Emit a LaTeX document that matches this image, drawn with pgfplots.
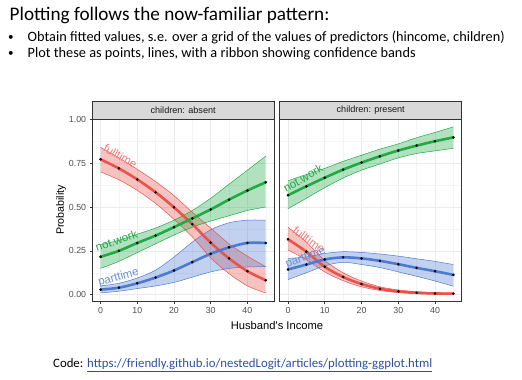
\documentclass[border=0pt]{standalone}
\usepackage{pgfplots}
\pgfplotsset{compat=1.18}
\usepackage{pgfplotstable}
\usepgfplotslibrary{fillbetween}
\usepackage{fontspec}
\setmainfont{Carlito}
\newfontfamily\arial{Liberation Sans}
\definecolor{cft}{HTML}{E9534B}
\definecolor{cnw}{HTML}{1FAA45}
\definecolor{cpt}{HTML}{4D7BD0}
\definecolor{gridmaj}{HTML}{EBEBEB}
\definecolor{gridmin}{HTML}{F4F4F4}
\definecolor{frame}{HTML}{333333}
\definecolor{stripbg}{HTML}{D9D9D9}
\definecolor{ticktxt}{HTML}{4D4D4D}
\definecolor{linkc}{HTML}{2E4FA0}

\pgfplotstableread{
x ft ftu ftl nw nwu nwl pt ptu ptl
0 0.772 0.84 0.70 0.216 0.285 0.15 0.029 0.05 0.01
5 0.72 0.78 0.655 0.25 0.31 0.19 0.04 0.065 0.02
10 0.657 0.715 0.595 0.295 0.345 0.24 0.065 0.095 0.035
15 0.584 0.645 0.52 0.337 0.38 0.29 0.098 0.14 0.05
20 0.498 0.565 0.43 0.385 0.425 0.34 0.138 0.215 0.07
25 0.402 0.47 0.33 0.435 0.48 0.385 0.186 0.30 0.10
30 0.297 0.38 0.21 0.486 0.55 0.42 0.233 0.37 0.13
35 0.207 0.29 0.12 0.542 0.63 0.45 0.27 0.41 0.15
40 0.134 0.22 0.05 0.594 0.71 0.48 0.295 0.425 0.158
45 0.082 0.16 0.01 0.641 0.79 0.50 0.295 0.425 0.16
}\absent

\pgfplotstableread{
x ft ftu ftl nw nwu nwl pt ptu ptl
0 0.316 0.385 0.255 0.567 0.65 0.49 0.144 0.207 0.086
5 0.245 0.30 0.20 0.618 0.685 0.55 0.172 0.215 0.125
10 0.159 0.195 0.13 0.667 0.72 0.61 0.201 0.235 0.165
15 0.101 0.125 0.08 0.713 0.76 0.665 0.213 0.245 0.185
20 0.061 0.078 0.045 0.753 0.795 0.71 0.207 0.241 0.172
25 0.034 0.045 0.024 0.789 0.83 0.745 0.193 0.232 0.155
30 0.019 0.027 0.012 0.822 0.86 0.78 0.174 0.22 0.13
35 0.011 0.017 0.006 0.85 0.895 0.805 0.153 0.205 0.105
40 0.007 0.012 0.003 0.875 0.925 0.82 0.134 0.19 0.078
45 0.006 0.01 0.002 0.897 0.957 0.835 0.113 0.172 0.048
}\present

\pgfplotsset{
  panel/.style={
    scale only axis, height=181.9pt,
    xmin=-2.25, xmax=47.25, ymin=-0.037, ymax=1,
    xtick={0,10,20,30,40}, ytick={0,0.25,0.5,0.75,1},
    minor xtick={5,15,25,35,45}, minor ytick={0.125,0.375,0.625,0.875},
    grid=both,
    major grid style={gridmaj, line width=0.6pt},
    minor grid style={gridmin, line width=0.4pt},
    axis line style={frame, line width=0.6pt},
    tick align=outside, major tick length=2.7pt, minor tick length=0pt,
    tick style={frame, line width=0.5pt},
    xtick pos=bottom, ytick pos=left,
    ticklabel style={font=\arial\fontsize{8.8}{10}\selectfont, text=ticktxt},
    /pgf/number format/assume math mode=true,
    clip=true,
  },
  band/.style={draw=#1, line width=0.5pt, smooth, forget plot},
}

\newcommand{\series}[5]{%
  \addplot[band=#5, name path=u#2] table[x=x,y=#3]{#1};
  \addplot[band=#5, name path=l#2] table[x=x,y=#4]{#1};
  \addplot[#5, fill opacity=0.35, draw=none] fill between[of=u#2 and l#2];
}
\newcommand{\mline}[3]{%
  \addplot[#3, line width=2.6pt, smooth] table[x=x,y=#2]{#1};
  \addplot[only marks, mark=*, mark size=1.1pt, black] table[x=x,y=#2]{#1};
}

\begin{document}
\begin{tikzpicture}[x=1pt,y=1pt]
\path (0,0) rectangle (522,380);

% slide text
\node[anchor=base west, inner sep=0] at (9.5,359.3) {\fontsize{19.2}{23}\selectfont Plotting follows the now-familiar pattern:};
\node[anchor=base west, inner sep=0] at (8,339.3) {\fontsize{11}{13}\selectfont \textbullet};
\node[anchor=base west, inner sep=0] at (27.5,338.3) {\fontsize{14.3}{17}\selectfont Obtain fitted values, s.e. over a grid of the values of predictors (hincome, children)};
\node[anchor=base west, inner sep=0] at (8,323.2) {\fontsize{11}{13}\selectfont \textbullet};
\node[anchor=base west, inner sep=0] at (27.5,322.2) {\fontsize{14.3}{17}\selectfont Plot these as points, lines, with a ribbon showing confidence bands};
\node[anchor=base west, inner sep=0] at (53,12.2) {\fontsize{12.8}{15}\selectfont Code: \textcolor{linkc}{\underline{https://friendly.github.io/nestedLogit/articles/plotting-ggplot.html}}};

% left panel
\begin{axis}[panel, at={(92.3pt,78.8pt)}, anchor=south west, width=181.7pt,
  yticklabel style={/pgf/number format/.cd, fixed, fixed zerofill, precision=2}]
\series{\absent}{ft}{ftu}{ftl}{cft}
\series{\absent}{nw}{nwu}{nwl}{cnw}
\series{\absent}{pt}{ptu}{ptl}{cpt}
\mline{\absent}{ft}{cft}
\mline{\absent}{nw}{cnw}
\mline{\absent}{pt}{cpt}
\node[rotate=-30, text=cft!75!white, font=\arial\fontsize{11.5}{12}\selectfont] at (axis cs:5.4,0.79) {fulltime};
\node[rotate=19.5, text=cnw, font=\arial\fontsize{11.5}{12}\selectfont] at (axis cs:4.3,0.307) {not.work};
\node[rotate=15.6, text=cpt!85!white, font=\arial\fontsize{11.5}{12}\selectfont] at (axis cs:4.9,0.098) {parttime};
\end{axis}

% right panel
\begin{axis}[panel, at={(279.7pt,78.8pt)}, anchor=south west, width=182pt,
  yticklabels={}, ytick style={draw=none}]
\series{\present}{ft}{ftu}{ftl}{cft}
\series{\present}{nw}{nwu}{nwl}{cnw}
\series{\present}{pt}{ptu}{ptl}{cpt}
\mline{\present}{ft}{cft}
\mline{\present}{nw}{cnw}
\mline{\present}{pt}{cpt}
\node[rotate=30, text=cnw, font=\arial\fontsize{11.5}{12}\selectfont] at (axis cs:4.1,0.664) {not.work};
\node[rotate=-36, text=cft!75!white, font=\arial\fontsize{11.5}{12}\selectfont] at (axis cs:5.7,0.314) {fulltime};
\node[rotate=20, text=cpt!85!white, font=\arial\fontsize{11.5}{12}\selectfont] at (axis cs:4.8,0.212) {parttime};
\end{axis}

% strips
\draw[frame, fill=stripbg, line width=0.6pt] (92.3,260.7) rectangle (274,279);
\draw[frame, fill=stripbg, line width=0.6pt] (279.7,260.7) rectangle (461.7,279);
\node[text=black!90, font=\arial\fontsize{9.1}{10}\selectfont] at (183.15,269.85) {children: absent};
\node[text=black!90, font=\arial\fontsize{9.1}{10}\selectfont] at (370.7,269.85) {children: present};

% axis titles
\node[rotate=90, font=\arial\fontsize{10.7}{12}\selectfont] at (61,170) {Probability};
\node[font=\arial\fontsize{11.2}{12}\selectfont] at (277,54.5) {Husband's Income};
\end{tikzpicture}
\end{document}
